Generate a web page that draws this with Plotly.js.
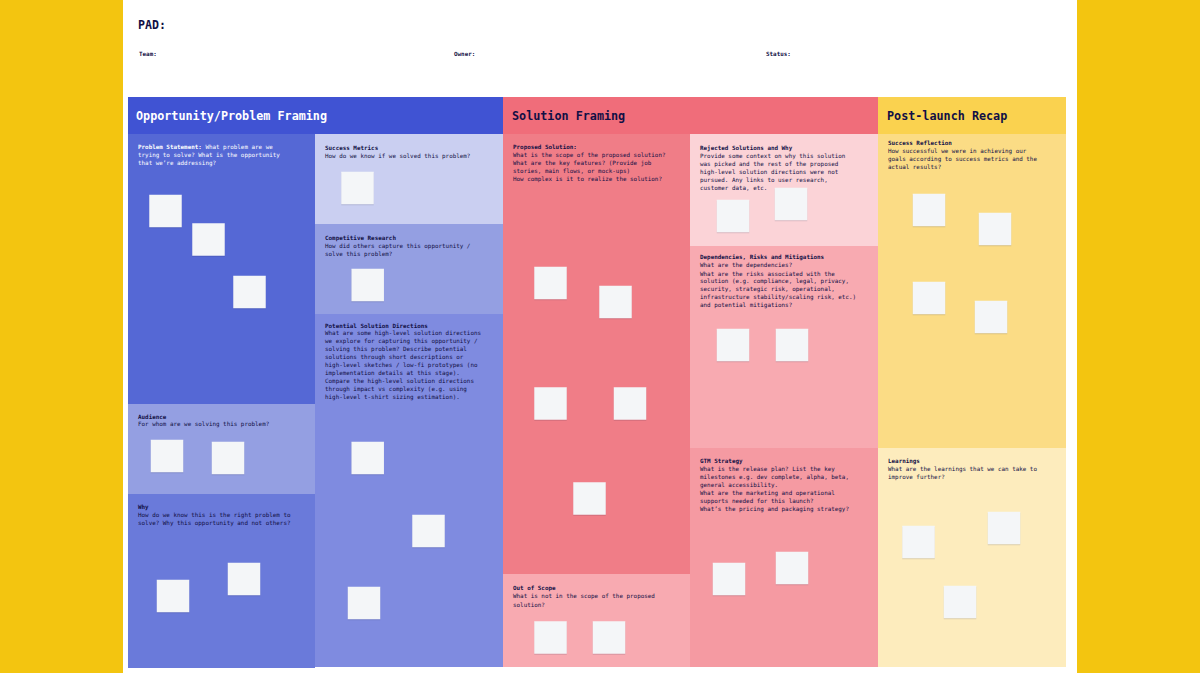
<!DOCTYPE html>
<html>
<head>
<meta charset="utf-8">
<script src="https://cdn.plot.ly/plotly-3.0.1.min.js"></script>
<style>
html,body{margin:0;padding:0;background:#F3C510;overflow:hidden}
#chart{width:1200px;height:673px}
.scatterlayer .points path{filter:drop-shadow(0 1px 0.5px rgba(20,20,60,.14))}
</style>
</head>
<body>
<div id="chart"></div>
<script>
var FONT = '"DejaVu Sans Mono", monospace';
var NAVY = '#110F45';

// Panels of the canvas (left, right, top, bottom, colour)
var panelLeft   = [123, 128, 503, 878, 128, 128, 128, 315, 315, 315, 503, 503, 690, 690, 690, 878, 878];
var panelRight  = [1077, 503, 878, 1066, 315, 315, 315, 503, 503, 503, 690, 690, 878, 878, 878, 1066, 1066];
var panelTop    = [0, 97, 97, 97, 134, 404, 494, 134, 224, 314, 134, 574, 134, 246, 448, 134, 448];
var panelBottom = [673, 134, 134, 134, 404, 494, 668, 224, 314, 667, 574, 667, 246, 448, 667, 448, 667];
var panelColor  = ['#FFFFFF', '#4053D3', '#F06D7A', '#FAD24F',
  '#5568D5', '#949FE2', '#6A7ADA', '#CACFF1', '#949FE2', '#7F8BE0',
  '#F07D87', '#F8AAB1', '#FBD3D7', '#F8AAB1', '#F59AA2', '#FBDC85', '#FDECBD'];

// Sticky notes (centres)
var noteX = [165.5, 208.5, 249.5, 167, 228, 173, 244, 357.5, 367.7, 367.7, 428.5, 364,
  550.5, 615.5, 550.5, 630, 589.5, 550.5, 609, 733, 791, 733, 792, 729, 792,
  929, 995, 929, 991, 918.5, 1004, 960];
var noteY = [211, 239.5, 292, 456, 458, 596, 579, 188, 285, 458, 531, 603,
  283, 302, 403.5, 403.5, 498.5, 637.5, 637.5, 216, 204, 345, 345, 579, 568,
  210, 229, 298, 317, 542, 528, 602];

// Big headings
var headText = ['Opportunity/Problem Framing', 'Solution Framing', 'Post-launch Recap'];
var headX = [134.7, 510.7, 885.7];
var headColor = ['#FFFFFF', NAVY, NAVY];

// Top meta row
var metaText = ['Team:', 'Owner:', 'Status:'];
var metaX = [138.3, 453.3, 765.3];

// Text blocks
var blockX   = [136.8, 324.2, 324.2, 324.2, 136.6, 136.6, 512.2, 512.2, 699.4, 699.4, 699.4, 887.2, 887.2];
var blockTop = [147, 148, 238, 325.7, 416.5, 507.3, 147, 588.5, 148, 257.6, 461.6, 143, 461];
var blockColor = ['#FFFFFF', NAVY, NAVY, NAVY, NAVY, NAVY, NAVY, NAVY, NAVY, NAVY, NAVY, NAVY, NAVY];
var blockLines = [
  ['<b>Problem Statement:</b> What problem are we', 'trying to solve? What is the opportunity', 'that we’re addressing?'],
  ['<b>Success Metrics</b>', 'How do we know if we solved this problem?'],
  ['<b>Competitive Research</b>', 'How did others capture this opportunity /', 'solve this problem?'],
  ['<b>Potential Solution Directions</b>', 'What are some high-level solution directions', 'we explore for capturing this opportunity /', 'solving this problem? Describe potential', 'solutions through short descriptions or', 'high-level sketches / low-fi prototypes (no', 'implementation details at this stage).', 'Compare the high-level solution directions', 'through impact vs complexity (e.g. using', 'high-level t-shirt sizing estimation).'],
  ['<b>Audience</b>', 'For whom are we solving this problem?'],
  ['<b>Why</b>', 'How do we know this is the right problem to', 'solve? Why this opportunity and not others?'],
  ['<b>Proposed Solution:</b>', 'What is the scope of the proposed solution?', 'What are the key features? (Provide job', 'stories, main flows, or mock-ups)', 'How complex is it to realize the solution?'],
  ['<b>Out of Scope</b>', 'What is not in the scope of the proposed', 'solution?'],
  ['<b>Rejected Solutions and Why</b>', 'Provide some context on why this solution', 'was picked and the rest of the proposed', 'high-level solution directions were not', 'pursued. Any links to user research,', 'customer data, etc.'],
  ['<b>Dependencies, Risks and Mitigations</b>', 'What are the dependencies?', 'What are the risks associated with the', 'solution (e.g. compliance, legal, privacy,', 'security, strategic risk, operational,', 'infrastructure stability/scaling risk, etc.)', 'and potential mitigations?'],
  ['<b>GTM Strategy</b>', 'What is the release plan? List the key', 'milestones e.g. dev complete, alpha, beta,', 'general accessibility.', 'What are the marketing and operational', 'supports needed for this launch?', 'What’s the pricing and packaging strategy?'],
  ['<b>Success Reflection</b>', 'How successful we were in achieving our', 'goals according to success metrics and the', 'actual results?'],
  ['<b>Learnings</b>', 'What are the learnings that we can take to', 'improve further?']
];
var LINE_STEP = 8;

function label(text, x, y, size, color) {
  return {text: text, x: x, y: y, xref: 'x', yref: 'y', xanchor: 'left', yanchor: 'middle',
    showarrow: false, align: 'left', borderpad: 0, font: {family: FONT, size: size, color: color}};
}

var annotations = [label('<b>PAD:</b>', 136.8, 25, 11.6, NAVY)];
metaText.forEach(function (t, i) { annotations.push(label('<b>' + t + '</b>', metaX[i], 53.5, 5.9, NAVY)); });
headText.forEach(function (t, i) { annotations.push(label('<b>' + t + '</b>', headX[i], 115.5, 11.75, headColor[i])); });
blockLines.forEach(function (lines, b) {
  lines.forEach(function (t, n) {
    annotations.push(label(t, blockX[b], blockTop[b] + n * LINE_STEP, 5.9, blockColor[b]));
  });
});

var panels = {
  type: 'bar',
  x: panelLeft.map(function (l, i) { return (l + panelRight[i]) / 2; }),
  width: panelLeft.map(function (l, i) { return panelRight[i] - l; }),
  base: panelTop,
  y: panelTop.map(function (t, i) { return panelBottom[i] - t; }),
  marker: {color: panelColor, line: {width: 0}},
  hoverinfo: 'skip',
  showlegend: false
};
var notes = {
  type: 'scatter',
  mode: 'markers',
  x: noteX,
  y: noteY,
  marker: {symbol: 'square', size: 32.5, color: '#F4F6F8', line: {width: 0}},
  hoverinfo: 'skip',
  showlegend: false
};
var layout = {
  width: 1200,
  height: 673,
  margin: {l: 0, r: 0, t: 0, b: 0, pad: 0},
  paper_bgcolor: '#F3C510',
  plot_bgcolor: '#F3C510',
  barmode: 'overlay',
  showlegend: false,
  xaxis: {range: [0, 1200], visible: false, fixedrange: true},
  yaxis: {range: [673, 0], visible: false, fixedrange: true},
  annotations: annotations
};
Plotly.newPlot('chart', [panels, notes], layout, {displayModeBar: false, staticPlot: true});
</script>
</body>
</html>
